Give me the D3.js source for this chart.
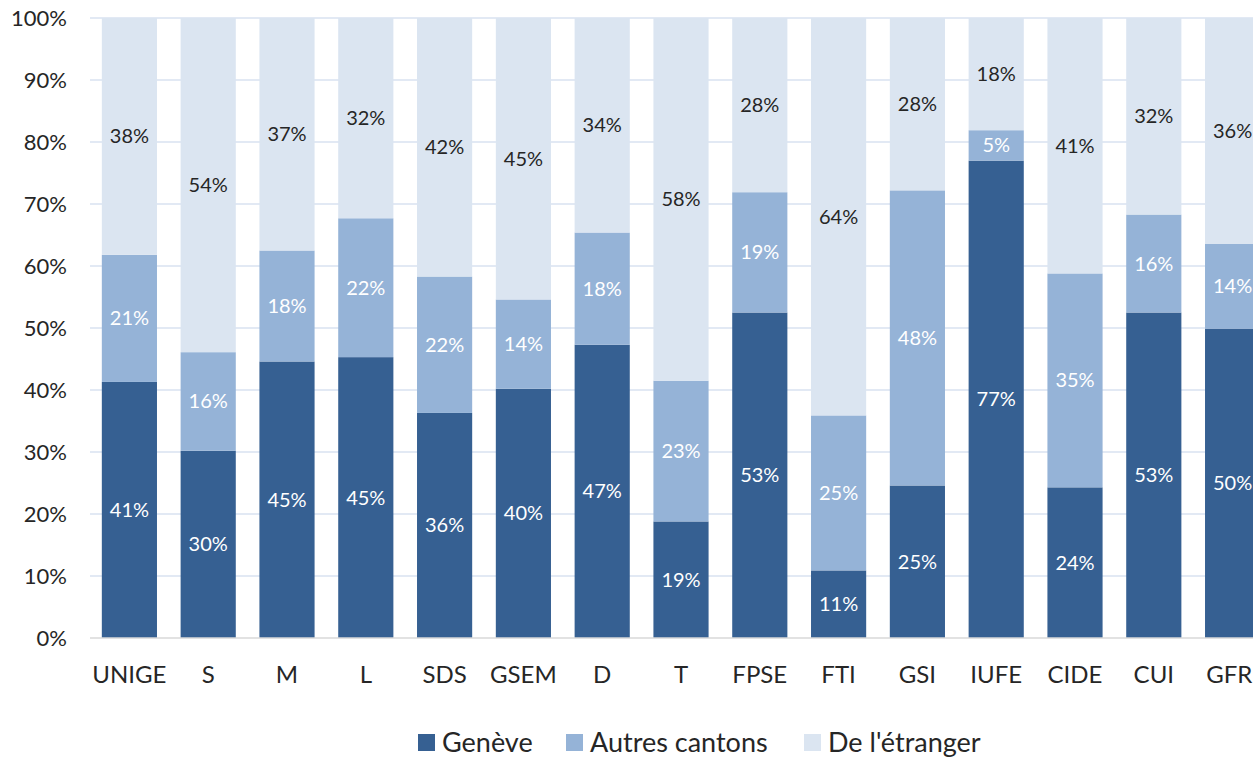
<!DOCTYPE html>
<html>
<head>
<meta charset="utf-8">
<script src="https://cdn.jsdelivr.net/npm/d3@7"></script>
<style>
  body { margin: 0; background: #fff; }
  svg text { font-family: Lato, "Open Sans", sans-serif; }
</style>
</head>
<body>
<div id="chart"></div>
<script>
var categories = ["UNIGE", "S", "M", "L", "SDS", "GSEM", "D", "T", "FPSE", "FTI", "GSI", "IUFE", "CIDE", "CUI", "GFRI"];
var geneve   = [41.3, 30.2, 44.6, 45.3, 36.3, 40.2, 47.3, 18.8, 52.5, 10.9, 24.6, 77.0, 24.3, 52.5, 49.9];
var autres   = [20.5, 15.9, 17.9, 22.4, 22.0, 14.4, 18.1, 22.7, 19.4, 25.0, 47.6,  4.9, 34.5, 15.8, 13.7];
var etranger = [38.2, 53.9, 37.5, 32.3, 41.7, 45.4, 34.6, 58.5, 28.1, 64.1, 27.8, 18.1, 41.2, 31.7, 36.4];
var labGeneve   = [41, 30, 45, 45, 36, 40, 47, 19, 53, 11, 25, 77, 24, 53, 50];
var labAutres   = [21, 16, 18, 22, 22, 14, 18, 23, 19, 25, 48,  5, 35, 16, 14];
var labEtranger = [38, 54, 37, 32, 42, 45, 34, 58, 28, 64, 28, 18, 41, 32, 36];
var seriesNames = ["Genève", "Autres cantons", "De l'étranger"];
var yTicks = [0, 10, 20, 30, 40, 50, 60, 70, 80, 90, 100];

var colors = ["#366092", "#95b3d7", "#dbe5f1"];
var textColors = ["#ffffff", "#ffffff", "#262626"];

var W = 1253, H = 757;
var plotLeft = 90, plotTop = 18, plotBottom = 638;
var step = 78.8;

var svg = d3.select("#chart").append("svg")
  .attr("width", W).attr("height", H);

var x = d3.scaleBand()
  .domain(categories)
  .range([plotLeft, plotLeft + step * categories.length])
  .paddingInner(0.3)
  .paddingOuter(0.15);

var y = d3.scaleLinear().domain([0, 100]).range([plotBottom, plotTop]);

// gridlines
svg.append("g")
  .selectAll("line")
  .data(yTicks.filter(function (d) { return d > 0; }))
  .enter().append("line")
  .attr("x1", plotLeft).attr("x2", W)
  .attr("y1", function (d) { return y(d); })
  .attr("y2", function (d) { return y(d); })
  .attr("stroke", "#d9e2f0")
  .attr("stroke-width", 1.3);

// y axis labels
var yAxis = d3.axisLeft(y).tickValues(yTicks).tickSize(0).tickPadding(0)
  .tickFormat(function (d) { return d + "%"; });
var gy = svg.append("g").attr("transform", "translate(" + 67 + ",0)").call(yAxis);
gy.select(".domain").remove();
gy.selectAll("text").attr("font-size", 22).attr("fill", "#262626")
  .attr("font-family", "Lato, sans-serif");

// stacked data
var rows = categories.map(function (c, i) {
  return { cat: c, vals: [geneve[i], autres[i], etranger[i]], labs: [labGeneve[i], labAutres[i], labEtranger[i]] };
});

var segs = [];
rows.forEach(function (r) {
  var acc = 0;
  r.vals.forEach(function (v, k) {
    segs.push({ cat: r.cat, k: k, y0: acc, y1: acc + v, lab: r.labs[k] });
    acc += v;
  });
});

svg.append("g")
  .selectAll("rect")
  .data(segs)
  .enter().append("rect")
  .attr("x", function (d) { return x(d.cat); })
  .attr("width", x.bandwidth())
  .attr("y", function (d) { return y(d.y1); })
  .attr("height", function (d) { return y(d.y0) - y(d.y1); })
  .attr("fill", function (d) { return colors[d.k]; });

svg.append("g")
  .selectAll("text")
  .data(segs)
  .enter().append("text")
  .attr("x", function (d) { return x(d.cat) + x.bandwidth() / 2; })
  .attr("y", function (d) { return (y(d.y0) + y(d.y1)) / 2; })
  .attr("dy", "0.35em")
  .attr("text-anchor", "middle")
  .attr("font-size", 20)
  .attr("fill", function (d) { return textColors[d.k]; })
  .text(function (d) { return d.lab + "%"; });

// baseline
svg.append("line")
  .attr("x1", plotLeft).attr("x2", W)
  .attr("y1", y(0)).attr("y2", y(0))
  .attr("stroke", "#d9d9d9").attr("stroke-width", 1.5);

// x axis labels
var xAxis = d3.axisBottom(x).tickSize(0).tickPadding(0);
var gx = svg.append("g").attr("transform", "translate(0," + 675 + ")").call(xAxis);
gx.select(".domain").remove();
gx.selectAll("text").attr("font-size", 24).attr("fill", "#262626")
  .attr("font-family", "Lato, sans-serif")
  .attr("y", 0).attr("dy", "0.35em");

// legend
var legendX = [418, 566, 804];
var leg = svg.append("g").selectAll("g")
  .data(seriesNames)
  .enter().append("g")
  .attr("transform", function (d, i) { return "translate(" + legendX[i] + ",734)"; });
leg.append("rect")
  .attr("width", 17).attr("height", 17)
  .attr("fill", function (d, i) { return colors[i]; });
leg.append("text")
  .attr("x", 24).attr("y", 8.5).attr("dy", "0.35em")
  .attr("font-size", 27).attr("fill", "#262626")
  .text(function (d) { return d; });
</script>
</body>
</html>
